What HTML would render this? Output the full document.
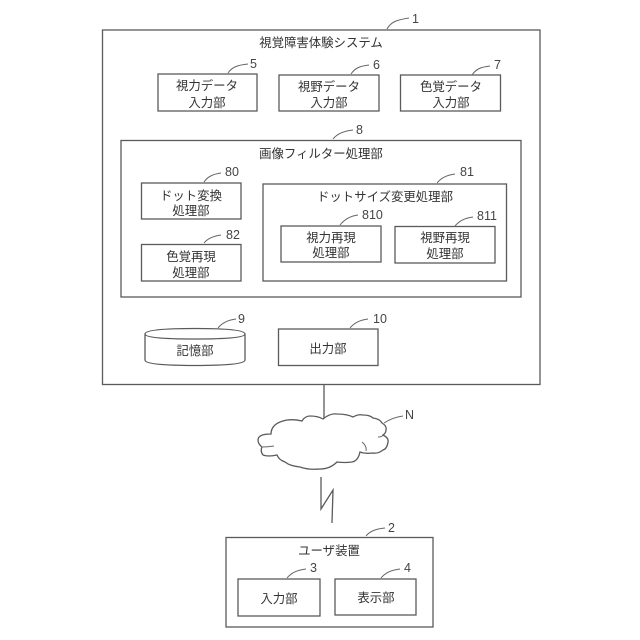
<!DOCTYPE html>
<html><head><meta charset="utf-8"><style>
html,body{margin:0;padding:0;background:#fff}
svg{display:block}
text{font-family:"Liberation Sans","Noto Sans CJK JP",sans-serif;font-size:12.4px;fill:#333;text-anchor:middle}
.n{font-size:12.5px;text-anchor:start;fill:#444}
rect,path.s{fill:none;stroke:#5a5a5a;stroke-width:1.3}
path.l{fill:none;stroke:#666;stroke-width:1}
</style></head><body>
<svg width="640" height="640" viewBox="0 0 640 640" xmlns="http://www.w3.org/2000/svg">
<rect x="102.5" y="30" width="437.5" height="354.5"/>
<rect x="158" y="74" width="99" height="37"/>
<rect x="279" y="75" width="100" height="36"/>
<rect x="400.5" y="75" width="100" height="36"/>
<rect x="121" y="140.5" width="400" height="156.5"/>
<rect x="141.5" y="183" width="99.5" height="36"/>
<rect x="141.5" y="244.5" width="99.5" height="36.5"/>
<rect x="263" y="184" width="243.5" height="97"/>
<rect x="281" y="226" width="100" height="36"/>
<rect x="395" y="226.5" width="100" height="36.5"/>
<rect x="278.5" y="329" width="99.5" height="36.5"/>
<path class="s" d="M145 334V360Q145 365.5 195 365.5Q245 365.5 245 360V334M145 334Q145 328.5 195 328.5Q245 328.5 245 334Q245 339 195 339Q145 339 145 334Z"/>
<path class="s" d="M324 384.5V418"/>
<path class="s" d="M258 440Q258 434 271 434Q271 423 287 420Q295 419 302 421Q305 416 310 416Q318 416 323 419Q330 413 337 414Q347 414 353 417Q358 414 363 415Q370 415 373 418Q380 419 382 423Q387 426 386 430Q386 433 383 435Q389 438 388 442Q387 449 383 450Q378 454 372 453Q365 454 360 452Q358 461 352 462Q345 463 337 462Q330 469 320 469Q308 470 300 467Q290 466 285 462Q279 460 277 455Q268 457 263 455Q260 451 262 447Q258 444 258 440Z"/>
<path class="l" d="M262 447Q268 447 274 446M362 442Q367 446 366 451M378 437Q382 437 383 435"/>
<path class="s" d="M321 477V509L333 490L332 523"/>
<rect x="226" y="537.5" width="207" height="89.5"/>
<rect x="238" y="579" width="82" height="37"/>
<rect x="335" y="579" width="81" height="36"/>

<path class="l" d="M387 29C391 22 396 20 409 18"/>
<path class="l" d="M228 73C232 67 238 65 248 64"/>
<path class="l" d="M351 74C355 68 360 66 369 65"/>
<path class="l" d="M472 75C476 69 481 67 490 66"/>
<path class="l" d="M333 139C337 134 343 131 353 130"/>
<path class="l" d="M204 182C208 176 214 174 221 173"/>
<path class="l" d="M204 243C208 238 214 236 221 235"/>
<path class="l" d="M437 183C441 178 447 175 455 174"/>
<path class="l" d="M340 225C344 220 350 216 358 215"/>
<path class="l" d="M455 226C459 221 465 218 473 217"/>
<path class="l" d="M218 328C222 323 228 320 236 319"/>
<path class="l" d="M350 328C354 323 360 320 368 319"/>
<path class="l" d="M384 423C390 419 396 417 403 416"/>
<path class="l" d="M366 536C370 531 376 529 385 528"/>
<path class="l" d="M287 578C291 573 297 570 306 569"/>
<path class="l" d="M381 578C385 573 391 570 400 569"/>

<text class="n" x="412" y="23">1</text>
<text class="n" x="250" y="68">5</text>
<text class="n" x="373" y="69">6</text>
<text class="n" x="494" y="69">7</text>
<text class="n" x="356" y="134">8</text>
<text class="n" x="225" y="176">80</text>
<text class="n" x="226" y="239">82</text>
<text class="n" x="460" y="176">81</text>
<text class="n" x="362" y="219">810</text>
<text class="n" x="477" y="220">811</text>
<text class="n" x="238" y="323">9</text>
<text class="n" x="373" y="323">10</text>
<text class="n" x="405" y="419">N</text>
<text class="n" x="388" y="532">2</text>
<text class="n" x="310" y="572">3</text>
<text class="n" x="404" y="572">4</text>

<text x="321" y="47">視覚障害体験システム</text>
<text x="207" y="90">視力データ</text>
<text x="207" y="107">入力部</text>
<text x="329" y="91">視野データ</text>
<text x="329" y="107">入力部</text>
<text x="451" y="91">色覚データ</text>
<text x="451" y="107">入力部</text>
<text x="321" y="158">画像フィルター処理部</text>
<text x="191" y="200">ドット変換</text>
<text x="191" y="215">処理部</text>
<text x="191" y="261">色覚再現</text>
<text x="191" y="277">処理部</text>
<text x="385" y="201">ドットサイズ変更処理部</text>
<text x="331" y="242">視力再現</text>
<text x="331" y="257">処理部</text>
<text x="445" y="242">視野再現</text>
<text x="445" y="258">処理部</text>
<text x="195" y="355">記憶部</text>
<text x="328" y="353">出力部</text>
<text x="329" y="555">ユーザ装置</text>
<text x="279" y="603">入力部</text>
<text x="376" y="602">表示部</text>
</svg>
</body></html>
